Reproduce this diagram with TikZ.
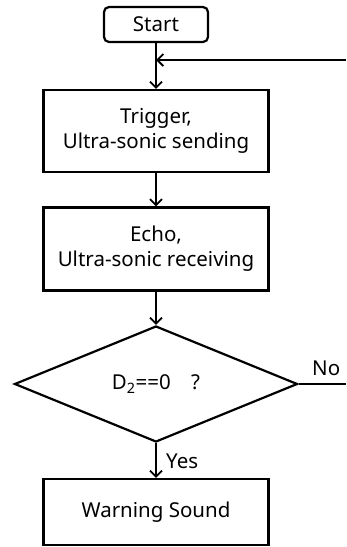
\documentclass[tikz,border=0pt]{standalone}
\usepackage{fontspec}
\setmainfont{Noto Sans}
\usetikzlibrary{shapes.geometric,arrows.meta}
\begin{document}
\begin{tikzpicture}[x=1pt,y=-1pt,
  every node/.style={font=\fontsize{20.5}{25}\selectfont},
  box/.style={draw,line width=2.2pt,minimum width=225pt,align=center,inner sep=0pt},
  conn/.style={line width=2.2pt,-{Straight Barb[length=6pt,width=12pt,line width=1.8pt]}}]
\useasboundingbox (0,0) rectangle (346,547);
\node[draw,line width=2.2pt,rounded corners=5pt,minimum width=104pt,minimum height=35pt,inner sep=0pt] (start) at (156,24.5) {Start};
\node[box,minimum height=82pt] (trig) at (156,131) {Trigger,\\Ultra-sonic sending};
\node[box,minimum height=83pt] (echo) at (156,249) {Echo,\\Ultra-sonic receiving};
\node[draw,line width=2.2pt,diamond,aspect=2.44,minimum width=283pt,minimum height=116pt,inner sep=0pt] (dec) at (156,384) {D\textsubscript{2}==0\quad ?};
\node[box,minimum height=66pt] (warn) at (156,512) {Warning Sound};
\coordinate (loopin) at (346,60);
\coordinate (join) at (156,60);
\coordinate (noend) at (346,384);
\draw[line width=2.2pt] (start.south) -- (join);
\draw[conn] (join) -- (trig.north);
\draw[conn] (loopin) -- (join);
\draw[conn] (trig.south) -- (echo.north);
\draw[conn] (echo.south) -- (dec.north);
\draw[line width=2.2pt] (dec.east) -- (noend);
\node[anchor=base west,inner sep=0pt] (no) at (312,375) {No};
\draw[conn] (dec.south) -- (warn.north);
\node[anchor=base west,inner sep=0pt] (yes) at (166,468) {Yes};
\end{tikzpicture}
\end{document}
